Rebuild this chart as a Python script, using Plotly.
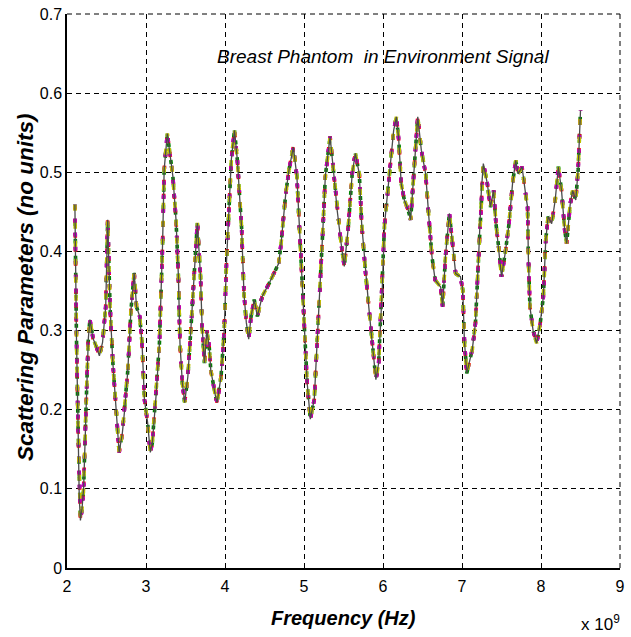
import plotly.graph_objects as go

# Frequency in GHz (axis multiplier x 10^9 shown as annotation)
freq_ghz = [
    2.10, 2.105, 2.12, 2.14, 2.155, 2.17, 2.19, 2.21, 2.24, 2.27, 2.29, 2.33, 2.37, 2.41, 2.45,
    2.49, 2.515, 2.545, 2.58, 2.62, 2.66, 2.70, 2.73, 2.77, 2.81, 2.85, 2.88, 2.92, 2.95, 2.98,
    3.02, 3.055, 3.08, 3.13, 3.17, 3.21, 3.23, 3.27, 3.30, 3.34, 3.38, 3.41, 3.43, 3.46, 3.49,
    3.53, 3.57, 3.61, 3.65, 3.69, 3.71, 3.74, 3.77, 3.80, 3.82, 3.88, 3.90, 3.95, 3.99, 4.02,
    4.05, 4.08, 4.12, 4.156, 4.21, 4.24, 4.27, 4.30, 4.33, 4.37, 4.41, 4.47, 4.56, 4.64, 4.68,
    4.71, 4.77, 4.81, 4.865, 4.91, 4.95, 4.98, 5.01, 5.04, 5.08, 5.13, 5.17, 5.20, 5.24, 5.27,
    5.33, 5.38, 5.42, 5.47, 5.51, 5.56, 5.61, 5.65, 5.70, 5.73, 5.78, 5.82, 5.86, 5.91, 5.945,
    5.99, 6.02, 6.05, 6.09, 6.135, 6.17, 6.20, 6.23, 6.27, 6.32, 6.35, 6.39, 6.44, 6.485, 6.54,
    6.58, 6.62, 6.66, 6.73, 6.755, 6.79, 6.84, 6.88, 6.92, 6.98, 7.01, 7.03, 7.06, 7.13, 7.17,
    7.21, 7.245, 7.27, 7.32, 7.36, 7.40, 7.43, 7.47, 7.50, 7.55, 7.595, 7.64, 7.68, 7.71, 7.76,
    7.81, 7.83, 7.84, 7.86, 7.90, 7.945, 7.99, 8.03, 8.06, 8.09, 8.135, 8.18, 8.22, 8.26, 8.30,
    8.325, 8.37, 8.40, 8.44, 8.47, 8.50,
]

s_param = [
    0.459, 0.39, 0.29, 0.18, 0.09, 0.06, 0.075, 0.10, 0.20, 0.29, 0.314, 0.29, 0.28, 0.268, 0.285,
    0.33, 0.44, 0.33, 0.26, 0.20, 0.146, 0.17, 0.20, 0.25, 0.326, 0.373, 0.33, 0.318, 0.284, 0.213,
    0.184, 0.146, 0.158, 0.221, 0.284, 0.41, 0.503, 0.549, 0.524, 0.495, 0.44, 0.369, 0.284, 0.234, 0.209,
    0.242, 0.305, 0.369, 0.436, 0.369, 0.305, 0.259, 0.30, 0.28, 0.25, 0.217, 0.209, 0.242, 0.30, 0.389,
    0.452, 0.516, 0.553, 0.516, 0.43, 0.347, 0.31, 0.289, 0.318, 0.339, 0.318, 0.343, 0.36, 0.377, 0.385,
    0.41, 0.474, 0.503, 0.532, 0.495, 0.41, 0.347, 0.284, 0.234, 0.188, 0.213, 0.293, 0.347, 0.43, 0.495,
    0.545, 0.495, 0.452, 0.41, 0.381, 0.43, 0.498, 0.524, 0.498, 0.435, 0.372, 0.33, 0.288, 0.238, 0.259,
    0.351, 0.435, 0.465, 0.503, 0.553, 0.57, 0.54, 0.486, 0.465, 0.452, 0.44, 0.498, 0.57, 0.528, 0.498,
    0.444, 0.393, 0.364, 0.355, 0.33, 0.393, 0.448, 0.414, 0.372, 0.368, 0.351, 0.288, 0.246, 0.276, 0.309,
    0.393, 0.477, 0.511, 0.486, 0.456, 0.477, 0.435, 0.40, 0.368, 0.40, 0.435, 0.486, 0.515, 0.498, 0.507,
    0.469, 0.456, 0.393, 0.33, 0.30, 0.284, 0.309, 0.343, 0.414, 0.444, 0.435, 0.465, 0.507, 0.477, 0.427,
    0.41, 0.46, 0.477, 0.465, 0.503, 0.578,
]

x_ticks = [2, 3, 4, 5, 6, 7, 8, 9]
x_tick_text = ["2", "3", "4", "5", "6", "7", "8", "9"]
y_ticks = [0, 0.1, 0.2, 0.3, 0.4, 0.5, 0.6, 0.7]
y_tick_text = ["0", "0.1", "0.2", "0.3", "0.4", "0.5", "0.6", "0.7"]

series_colors = ["#0000ff", "#008000", "#ff0000", "#00bfbf", "#bf00bf", "#bfbf00"]
series_dashes = ["3px,11px", "4px,13px", "5px,9px", "3px,15px", "4px,10px", "6px,12px"]

sans = "Liberation Sans, Arial, sans-serif"
grid_dash = "5px,4px"

fig = go.Figure()
for c, d in zip(series_colors, series_dashes):
    fig.add_trace(go.Scatter(x=freq_ghz, y=s_param, mode="lines",
                             line=dict(color=c, width=3.6, dash=d), showlegend=False))
fig.add_trace(go.Scatter(x=freq_ghz, y=s_param, mode="lines",
                         line=dict(color="#4a4a4a", width=1.3), showlegend=False))

# dashed top and right frame (grid lines at the range limits)
fig.add_shape(type="line", xref="paper", yref="paper", x0=0, x1=1, y0=1, y1=1,
              line=dict(color="black", width=1, dash=grid_dash), layer="below")
fig.add_shape(type="line", xref="paper", yref="paper", x0=1, x1=1, y0=0, y1=1,
              line=dict(color="black", width=1, dash=grid_dash), layer="below")

fig.add_annotation(x=6.0, y=0.646, xref="x", yref="y",
                   text="<i>Breast Phantom  in Environment Signal</i>",
                   showarrow=False, font=dict(family=sans, size=19, color="black"))
fig.add_annotation(x=0.964, y=0, xref="paper", yref="paper", xanchor="center", yanchor="middle",
                   yshift=-55, text="x 10<sup>9</sup>", showarrow=False,
                   font=dict(family=sans, size=17, color="black"))
fig.add_annotation(x=-0.076, y=0.507, xref="paper", yref="paper", xanchor="center", yanchor="middle",
                   textangle=-90,
                   text="<b><i>Scattering Parameters (no units)</i></b>", showarrow=False,
                   font=dict(family=sans, size=22.5, color="black"))
fig.add_annotation(x=0.5, y=0, xref="paper", yref="paper", xanchor="center", yanchor="middle",
                   yshift=-50, text="<b><i>Frequency (Hz)</i></b>", showarrow=False,
                   font=dict(family=sans, size=20, color="black"))

fig.update_xaxes(range=[2, 9], tickvals=x_ticks, ticktext=x_tick_text,
                 showgrid=True, gridcolor="black", gridwidth=1, griddash=grid_dash,
                 showline=True, linecolor="black", linewidth=1.5,
                 ticks="inside", ticklen=5, tickcolor="black",
                 tickfont=dict(family=sans, size=16, color="black"),
                 ticklabelstandoff=3, ticklabeloverflow="allow",
                 zeroline=False, automargin=False)
fig.update_yaxes(range=[0, 0.7], tickvals=y_ticks, ticktext=y_tick_text,
                 showgrid=True, gridcolor="black", gridwidth=1, griddash=grid_dash,
                 showline=True, linecolor="black", linewidth=1.5,
                 ticks="inside", ticklen=5, tickcolor="black",
                 tickfont=dict(family=sans, size=16, color="black"),
                 ticklabeloverflow="allow",
                 zeroline=False, automargin=False)

fig.update_layout(width=631, height=637, margin=dict(l=67, r=11, t=14, b=69),
                  plot_bgcolor="white", paper_bgcolor="white", showlegend=False)

# remove the default 8px page margin so the figure fills the window exactly
fig.write_html("out.html", config={"displayModeBar": False},
               post_script="document.body.style.margin='0';")
